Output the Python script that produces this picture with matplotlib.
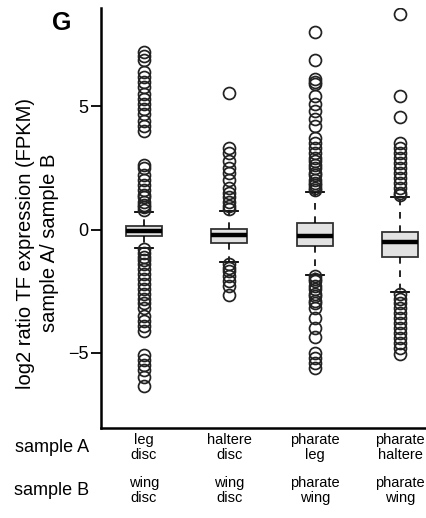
import numpy as np
import matplotlib
matplotlib.use("Agg")
import matplotlib.pyplot as plt
import matplotlib.transforms as mtransforms

plt.rcParams['font.family'] = ['Liberation Sans', 'DejaVu Sans']

# ==== DATA ====
sample_a = ['leg\ndisc', 'haltere\ndisc', 'pharate\nleg', 'pharate\nhaltere']
sample_b = ['wing\ndisc', 'wing\ndisc', 'pharate\nwing', 'pharate\nwing']

medians = [-0.05, -0.23, -0.27, -0.50]
q1s = [-0.27, -0.56, -0.68, -1.11]
q3s = [0.16, 0.04, 0.27, -0.09]
whis_lo = [-0.73, -1.33, -1.85, -2.52]
whis_hi = [0.72, 0.77, 1.52, 1.31]

fliers_1 = [7.2, 7.05, 6.9, 6.4, 6.2, 6.0, 5.8, 5.5, 5.3, 5.1, 4.9, 4.7, 4.4, 4.2, 4.0,
            2.6, 2.5, 2.2, 2.0, 1.8, 1.6, 1.4, 1.3, 1.1, 1.0, 0.9, 0.8,
            -0.8, -0.95, -1.1, -1.25, -1.4, -1.6, -1.8, -2.0, -2.2, -2.4,
            -2.6, -2.8, -3.0, -3.2, -3.5, -3.7, -3.9, -4.1,
            -5.1, -5.3, -5.5, -5.7, -6.0, -6.35]
fliers_2 = [5.55, 3.3, 3.1, 2.8, 2.5, 2.3, 2.0, 1.7, 1.5, 1.3, 1.1, 0.95, 0.85,
            -1.4, -1.55, -1.7, -1.9, -2.1, -2.3, -2.65]
fliers_3 = [8.0, 6.9, 6.1, 6.0, 5.9, 5.4, 5.1, 4.8, 4.5, 4.2,
            3.7, 3.5, 3.3, 3.1, 2.9, 2.8, 2.6, 2.5, 2.3, 2.2, 2.0, 1.9, 1.8, 1.7, 1.6,
            -1.9, -2.0, -2.1, -2.3, -2.4, -2.6, -2.7, -2.9, -3.0, -3.2,
            -3.6, -4.0, -4.35, -5.0, -5.2, -5.4, -5.6]
fliers_4 = [8.74, 5.4, 4.55, 3.5, 3.3, 3.1, 2.9, 2.7, 2.5, 2.3, 2.1, 1.9, 1.7, 1.5, 1.4,
            -2.6, -2.8, -3.0, -3.2, -3.4, -3.6, -3.8, -4.0, -4.2, -4.4, -4.6, -4.8, -5.05]
all_fliers = [fliers_1, fliers_2, fliers_3, fliers_4]

yticks = [-5, 0, 5]
# ====================================

stats = []
for i in range(4):
    stats.append(dict(med=medians[i], q1=q1s[i], q3=q3s[i],
                      whislo=whis_lo[i], whishi=whis_hi[i],
                      fliers=np.array(all_fliers[i])))

fig = plt.figure(figsize=(4.26, 5.18), dpi=100)
ax = fig.add_axes([0.237, 0.174, 0.763, 0.811])

positions = np.arange(1, 5)
ax.bxp(stats, positions=positions, widths=0.42, capwidths=0.21,
       patch_artist=True, showfliers=True,
       boxprops=dict(facecolor='#e2e2e2', edgecolor='#333333', linewidth=1.3),
       medianprops=dict(color='black', linewidth=3.2, solid_capstyle='butt'),
       whiskerprops=dict(color='black', linewidth=1.2, linestyle=(0, (4, 4))),
       capprops=dict(color='black', linewidth=1.3),
       flierprops=dict(marker='o', markersize=8.6, markerfacecolor='none',
                       markeredgecolor='#222222', markeredgewidth=1.25))

ax.set_xlim(0.497, 4.30)
ax.set_ylim(-8.05, 9.0)
ax.set_yticks(yticks)
ax.set_yticklabels(['\u22125', '0', '5'], fontsize=13)
ax.set_xticks([])
ax.tick_params(axis='y', length=7, width=1.3, direction='out', pad=2)
for side in ['top', 'right']:
    ax.spines[side].set_visible(False)
ax.spines['left'].set_linewidth(1.8)
ax.spines['bottom'].set_linewidth(1.8)

ax.set_ylabel('log2 ratio TF expression (FPKM)\nsample A/ sample B',
              fontsize=14.5, linespacing=1.3)
ax.yaxis.set_label_coords(-0.13, 0.44)

trans = mtransforms.blended_transform_factory(ax.transData, fig.transFigure)
for i, (a, b) in enumerate(zip(sample_a, sample_b)):
    ax.text(positions[i], 0.136, a, transform=trans, ha='center', va='center',
            fontsize=10.5, linespacing=1.15)
    ax.text(positions[i], 0.053, b, transform=trans, ha='center', va='center',
            fontsize=10.5, linespacing=1.15)

fig.text(0.122, 0.137, 'sample A', ha='center', va='center', fontsize=13)
fig.text(0.122, 0.054, 'sample B', ha='center', va='center', fontsize=13)
fig.text(0.145, 0.955, 'G', ha='center', va='center', fontsize=18, fontweight='bold')

fig.savefig('out.png', dpi=100)
